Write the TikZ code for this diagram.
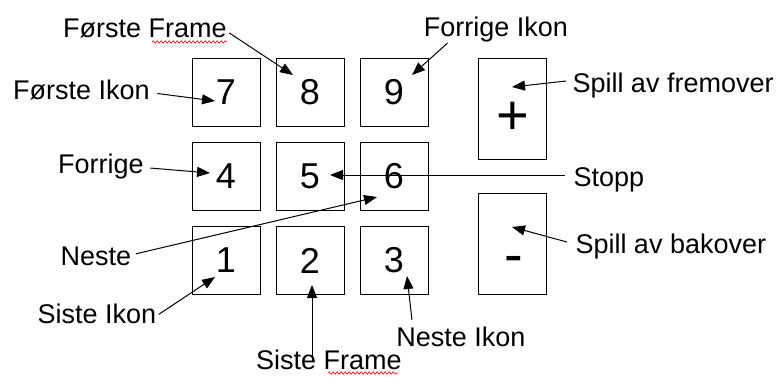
\documentclass[tikz,border=0pt]{standalone}
\usepackage{fontspec}
\setmainfont{Liberation Sans}
\usepackage{tikz}
\usetikzlibrary{arrows.meta, calc, decorations.pathmorphing}

\begin{document}
\begin{tikzpicture}[x=1pt, y=-1pt, line width=1pt,
  key/.style={draw, minimum width=68pt, minimum height=68pt, inner sep=0pt,
              font=\fontsize{36}{40}\selectfont},
  bigkey/.style={draw, minimum width=68pt, minimum height=101pt, inner sep=0pt},
  sign/.style={inner sep=0pt, font=\fontsize{56}{60}\selectfont},
  lbl/.style={inner sep=0pt, font=\fontsize{27}{30}\selectfont},
  arr/.style={-{Triangle[length=13pt, width=10pt]}},
  spell/.style={draw=red, line width=0.6pt,
                decorate, decoration={snake, amplitude=1.2pt, segment length=4pt}}
]
\useasboundingbox (0,0) rectangle (781,376);

% ---- number pad ---------------------------------------------------------
\foreach \n/\x/\y in {7/226/92, 8/310/92, 9/394/92,
                      4/226/176.5, 5/310/176.5, 6/394/176.5,
                      1/226/260.5, 2/310/260.5, 3/394/260.5} {
  \node[key] (b\n) at (\x,\y) {\n};
}
\node[bigkey] (bplus)  at (512,108.5) {};
\node[bigkey] (bminus) at (512,243.5) {};
\node[sign] (plus)  at (513,118) {+};
\node[sign] (minus) at (514,265) {-};

% ---- arrow tips ---------------------------------------------------------
\coordinate (t8) at (293,75);
\coordinate (t7) at (215,101);
\coordinate (t4) at (210,173);
\coordinate (t9) at (412,75);
\coordinate (tp) at (512,87);
\coordinate (t5) at (330,175);
\coordinate (t6) at (377,197);
\coordinate (t1) at (215,277);
\coordinate (t2) at (312,285);
\coordinate (t3) at (407,276);
\coordinate (tm) at (512,227);

% ---- labels -------------------------------------------------------------
\node[lbl, anchor=base] (fframe) at (145,37) {Første Frame};
\node[lbl, anchor=base] (fikon)  at (81.5,99) {Første Ikon};
\node[lbl, anchor=base] (forr)   at (101,173) {Forrige};
\node[lbl, anchor=base] (fikon2) at (496,36) {Forrige Ikon};
\node[lbl, anchor=base west] (fram)  at (572,92) {Spill av fremover};
\node[lbl, anchor=base west] (stopp) at (573,186) {Stopp};
\node[lbl, anchor=base west] (bak)   at (575,253) {Spill av bakover};
\node[lbl, anchor=base] (neste)  at (96,265) {Neste};
\node[lbl, anchor=base] (sikon)  at (97,323) {Siste Ikon};
\node[lbl, anchor=base] (sframe) at (329,369) {Siste Frame};
\node[lbl, anchor=base] (nikon)  at (461,346) {Neste Ikon};

% spell-check marks
\draw[spell] (152,42) -- (227,42);
\draw[spell] (328,373) -- (398,373);

% ---- connectors ---------------------------------------------------------
\draw[arr] ($(fframe.east)+(2,5)$) -- (t8);
\draw[arr] ($(fikon.east)+(7,4)$) -- (t7);
\draw[arr] ($(forr.east)+(6,2)$) -- (t4);
\draw[arr] ($(fikon2.south west)+(24,1)$) -- (t9);
\draw[arr] ($(fram.west)+(-6,-4)$) -- (tp);
\draw[arr] ($(stopp.west |- t5)+(-8,0)$) -- (t5);
\draw[arr] ($(bak.west)+(-8,-4)$) -- (tm);
\draw[arr] ($(neste.east)+(4,-2)$) -- (t6);
\draw[arr] ($(sikon.east)+(2,1)$) -- (t1);
\draw[arr] ($(t2 |- sframe.north)+(0,12)$) -- (t2);
\draw[arr] ($(nikon.north west)+(16,-6)$) -- (t3);
\end{tikzpicture}
\end{document}
